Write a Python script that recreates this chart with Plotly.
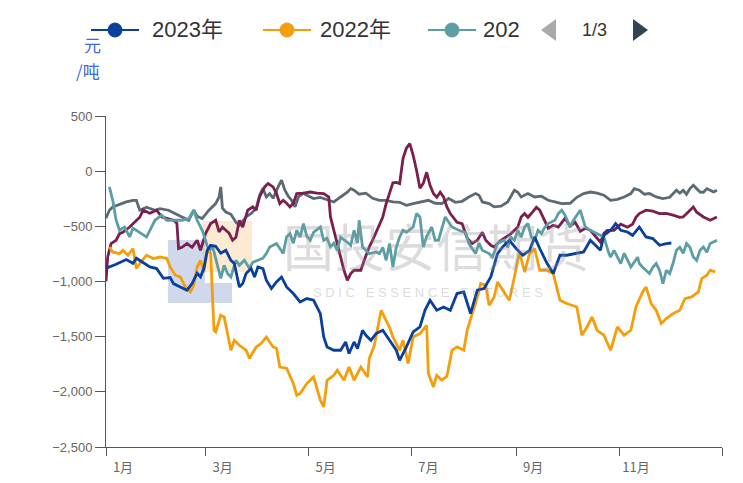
import pandas as pd
import plotly.graph_objects as go

# ---------------- data (day-of-year offsets, 元/吨) ----------------
names = ["2023年", "2022年", "2021年", "2020年", "2019年"]
colors = ["#0a3f9c", "#f59d0a", "#5b9ea6", "#7a1f4e", "#5a6b76"]

d2023 = [0, 2, 6, 12, 16, 18, 22, 26, 30, 34, 38, 40, 44, 48, 51, 54, 56, 58, 60, 62,
         65, 68, 71, 74, 76, 79, 81, 83, 86, 88, 90, 93, 95, 98, 101, 104, 107, 111, 115, 119,
         123, 127, 129, 131, 135, 139, 142, 144, 147, 149, 152, 154, 157, 160, 164, 168, 172, 174, 178, 182,
         186, 189, 192, 196, 200, 204, 208, 212, 216, 220, 224, 228, 232, 235, 239, 243, 247, 251, 254, 257,
         261, 265, 269, 273, 279, 283, 287, 293, 295, 299, 302, 305, 309, 312, 316, 320, 324, 328, 332, 335]
v2023 = [-880, -868, -844, -801, -835, -789, -832, -868, -883, -971, -964, -1019, -1049, -1079, -1019, -925, -959, -880, -717, -672,
         -681, -744, -717, -808, -837, -1049, -1019, -928, -883, -959, -868, -883, -988, -1064, -1004, -959, -1049, -1109, -1185, -1155,
         -1170, -1291, -1503, -1593, -1623, -1623, -1548, -1653, -1548, -1608, -1442, -1487, -1533, -1472, -1442, -1533, -1623, -1714, -1593, -1457,
         -1412, -1261, -1170, -1261, -1231, -1261, -1109, -1095, -1291, -1079, -1064, -959, -747, -687, -626, -701, -762, -717, -596, -701,
         -826, -928, -762, -762, -747, -732, -626, -717, -581, -536, -475, -536, -551, -581, -506, -596, -611, -672, -656, -651]

d2022 = [2, 4, 8, 10, 13, 16, 18, 20, 24, 28, 32, 36, 38, 41, 44, 47, 50, 52, 54, 56,
         58, 60, 62, 64, 65, 68, 70, 72, 74, 76, 79, 83, 85, 89, 92, 95, 99, 101, 103, 107,
         111, 113, 115, 119, 123, 127, 129, 131, 135, 137, 141, 144, 147, 151, 155, 156, 159, 163, 166, 168,
         170, 174, 176, 179, 182, 186, 190, 191, 194, 196, 199, 202, 205, 208, 212, 214, 217, 219, 222, 225,
         227, 230, 232, 235, 239, 242, 245, 248, 251, 254, 257, 261, 265, 267, 269, 273, 279, 282, 285, 288,
         291, 295, 297, 299, 303, 307, 311, 314, 318, 320, 323, 326, 329, 332, 336, 340, 343, 347, 351, 353,
         356, 358, 361]
v2022 = [-687, -732, -747, -717, -762, -701, -883, -837, -762, -792, -778, -792, -868, -943, -959, -1049, -1095, -1034, -868, -808,
         -914, -717, -747, -1442, -1457, -1306, -1321, -1472, -1623, -1533, -1578, -1623, -1698, -1593, -1560, -1503, -1593, -1605, -1775, -1786,
         -1925, -2031, -2016, -1925, -1865, -2076, -2137, -1895, -1850, -1805, -1895, -1775, -1895, -1775, -1865, -1698, -1578, -1261, -1351, -1415,
         -1503, -1623, -1533, -1744, -1503, -1472, -1397, -1834, -1956, -1850, -1895, -1859, -1623, -1593, -1623, -1442, -1291, -1197, -1019, -1034,
         -1215, -1140, -1004, -1079, -1170, -959, -732, -914, -747, -701, -898, -898, -928, -1049, -1170, -1200, -1231, -1487, -1412, -1321,
         -1442, -1487, -1562, -1623, -1412, -1487, -1442, -1231, -1095, -1049, -1200, -1261, -1381, -1336, -1291, -1261, -1155, -1140, -1095, -973,
         -943, -898, -914]

d2021 = [2, 4, 5, 6, 8, 11, 14, 16, 21, 24, 26, 29, 33, 36, 41, 45, 49, 52, 54, 57,
         59, 61, 63, 66, 68, 70, 72, 74, 77, 79, 82, 85, 87, 90, 93, 95, 97, 101, 105, 107,
         109, 111, 113, 115, 117, 119, 121, 123, 127, 129, 131, 133, 135, 137, 139, 143, 145, 147, 149, 150,
         152, 156, 160, 162, 164, 166, 168, 170, 172, 174, 176, 178, 182, 184, 186, 188, 190, 193, 195, 197,
         199, 201, 205, 209, 213, 215, 219, 221, 223, 227, 229, 231, 232, 236, 238, 240, 242, 244, 246, 248,
         250, 252, 254, 256, 258, 260, 262, 266, 268, 270, 272, 275, 277, 281, 284, 287, 291, 295, 298, 299,
         301, 303, 305, 307, 309, 311, 315, 316, 318, 322, 324, 326, 328, 330, 332, 334, 336, 338, 340, 342,
         344, 346, 348, 350, 352, 354, 356, 358, 362]
v2021 = [-143, -264, -354, -445, -536, -506, -596, -517, -566, -596, -536, -445, -399, -445, -445, -445, -430, -354, -445, -536,
         -626, -735, -672, -868, -971, -853, -928, -959, -808, -853, -808, -880, -826, -808, -789, -747, -687, -656, -747, -596,
         -566, -653, -536, -599, -475, -590, -626, -554, -506, -626, -608, -687, -653, -717, -599, -644, -672, -536, -653, -445,
         -687, -747, -732, -747, -690, -808, -656, -868, -690, -596, -536, -554, -506, -384, -415, -687, -590, -506, -626, -626,
         -508, -415, -506, -536, -554, -656, -747, -653, -717, -747, -778, -687, -656, -626, -690, -599, -626, -536, -599, -506,
         -475, -596, -626, -536, -566, -508, -475, -445, -384, -354, -399, -506, -445, -354, -506, -536, -566, -596, -747, -778,
         -717, -780, -837, -744, -808, -868, -780, -837, -871, -928, -871, -837, -898, -1019, -898, -928, -835, -717, -690, -744,
         -656, -690, -778, -808, -717, -687, -735, -656, -626]

d2020 = [0, 1, 3, 6, 8, 10, 14, 18, 20, 22, 26, 30, 33, 36, 40, 42, 43, 45, 48, 51,
         54, 56, 59, 62, 65, 67, 69, 71, 73, 75, 77, 79, 81, 84, 87, 89, 91, 94, 96, 99,
         101, 103, 105, 107, 109, 111, 113, 117, 121, 125, 129, 132, 133, 135, 137, 139, 141, 143, 145, 147,
         149, 151, 153, 155, 156, 158, 160, 162, 164, 166, 168, 170, 172, 174, 176, 178, 180, 182, 184, 186,
         188, 190, 192, 194, 196, 198, 200, 202, 204, 208, 211, 214, 217, 220, 223, 225, 228, 230, 234, 237,
         240, 244, 246, 248, 250, 252, 255, 257, 260, 262, 265, 268, 272, 275, 278, 281, 284, 287, 290, 293,
         295, 297, 301, 305, 309, 312, 314, 316, 320, 324, 328, 332, 336, 340, 342, 346, 348, 350, 354, 358,
         362]
v2020 = [-1000, -778, -656, -626, -566, -554, -506, -445, -418, -354, -382, -354, -415, -427, -445, -472, -701, -690, -656, -690,
         -626, -717, -566, -475, -445, -551, -508, -536, -563, -626, -599, -445, -508, -354, -324, -354, -234, -143, -112, -143,
         -200, -294, -264, -291, -324, -291, -203, -200, -189, -200, -203, -234, -415, -536, -656, -762, -898, -989, -928, -898,
         -898, -898, -808, -717, -687, -626, -554, -475, -415, -294, -203, -105, -101, -112, 117, 208, 250, 144, 8, -155,
         -110, -10, -128, -203, -236, -191, -234, -324, -384, -463, -475, -608, -656, -626, -554, -626, -672, -687, -626, -596,
         -566, -506, -415, -384, -418, -384, -327, -354, -445, -517, -490, -506, -427, -499, -463, -545, -517, -536, -590, -644,
         -563, -536, -536, -481, -508, -481, -418, -384, -354, -363, -384, -382, -399, -418, -415, -354, -324, -372, -415, -445,
         -415]

d2019 = [0, 2, 4, 8, 12, 16, 18, 20, 24, 29, 32, 37, 41, 45, 49, 52, 54, 57, 61, 65,
         67, 68, 69, 71, 74, 77, 79, 83, 86, 89, 91, 93, 95, 97, 99, 102, 104, 106, 108, 110,
         112, 114, 117, 119, 123, 127, 131, 135, 139, 143, 145, 147, 150, 154, 158, 162, 166, 170, 174, 178,
         182, 186, 191, 195, 199, 203, 207, 211, 215, 219, 221, 223, 227, 230, 234, 238, 242, 244, 246, 250,
         254, 258, 262, 266, 270, 275, 279, 283, 287, 291, 295, 299, 303, 307, 311, 313, 315, 316, 319, 322,
         326, 330, 334, 338, 340, 342, 344, 346, 348, 350, 352, 354, 356, 358, 360, 362]
v2019 = [-427, -354, -324, -300, -279, -264, -264, -354, -327, -354, -339, -354, -384, -415, -445, -354, -409, -430, -354, -294,
         -234, -143, -336, -370, -391, -463, -490, -415, -384, -336, -218, -155, -234, -203, -246, -143, -82, -173, -227, -264,
         -324, -234, -200, -218, -248, -237, -255, -279, -234, -191, -158, -173, -209, -200, -246, -264, -264, -279, -282, -309,
         -294, -282, -264, -291, -294, -248, -282, -273, -234, -203, -218, -279, -294, -324, -318, -279, -173, -191, -234, -203,
         -234, -227, -264, -279, -294, -291, -237, -203, -189, -200, -218, -264, -255, -234, -203, -158, -173, -173, -209, -203,
         -234, -248, -237, -173, -200, -173, -209, -158, -128, -155, -189, -191, -158, -173, -189, -173]

days = [d2023, d2022, d2021, d2020, d2019]
vals = [v2023, v2022, v2021, v2020, v2019]

y_ticks = [500, 0, -500, -1000, -1500, -2000, -2500]
x_tick_labels = ["1月", "3月", "5月", "7月", "9月", "11月", ""]
x_tick_dates = ["2001-01-01", "2001-03-01", "2001-05-01", "2001-07-01",
                "2001-09-01", "2001-11-01", "2002-01-01"]

base = pd.Timestamp("2001-01-01")

fig = go.Figure()
# draw older years first so recent years sit on top
for i in reversed(range(len(names))):
    x = [base + pd.Timedelta(days=d) for d in days[i]]
    fig.add_trace(go.Scatter(x=x, y=vals[i], name=names[i], mode="lines",
                             line=dict(color=colors[i], width=2.8),
                             showlegend=False))

# plot area geometry in screen pixels (page has 8px body margin)
OFF = 8
W, H = 743, 483
L, R, T, B = 106, 722, 116, 447
def px(x):
    return (x - L) / (R - L)
def py(y):
    return (B - y) / (B - T)

shapes = []
annotations = []

# watermark logo (faint)
shapes.append(dict(type="rect", xref="paper", yref="paper", x0=px(168), x1=px(205), y0=py(303), y1=py(240),
                   fillcolor="rgba(40,80,170,0.22)", line=dict(width=0), layer="below"))
shapes.append(dict(type="rect", xref="paper", yref="paper", x0=px(205), x1=px(232), y0=py(303), y1=py(283),
                   fillcolor="rgba(40,80,170,0.22)", line=dict(width=0), layer="below"))
shapes.append(dict(type="rect", xref="paper", yref="paper", x0=px(203), x1=px(252), y0=py(272), y1=py(221),
                   fillcolor="rgba(245,170,80,0.25)", line=dict(width=0), layer="below"))
annotations.append(dict(text="国投安信期货", xref="paper", yref="paper", x=px(436), y=py(245),
                        showarrow=False, font=dict(size=51, color="rgba(150,150,150,0.33)",
                                                   family="Noto Sans CJK SC")))
annotations.append(dict(text="S D I C   E S S E N C E   F U T U R E S", xref="paper", yref="paper",
                        x=px(428), y=py(292), showarrow=False,
                        font=dict(size=13, color="rgba(150,150,150,0.35)", family="Liberation Sans")))

# custom paged legend
leg_y = 30
items = [(115, 150, "2023年", colors[0]), (287, 318, "2022年", colors[1]), (452, 481, "202", colors[2])]
for cx, tx, label, col in items:
    shapes.append(dict(type="line", xref="paper", yref="paper", x0=px(cx - 24), x1=px(cx + 24),
                       y0=py(leg_y), y1=py(leg_y), line=dict(color=col, width=2)))
    shapes.append(dict(type="circle", xref="paper", yref="paper", x0=px(cx - 7), x1=px(cx + 7),
                       y0=py(leg_y + 7), y1=py(leg_y - 7), fillcolor=col, line=dict(color=col, width=1)))
    annotations.append(dict(text=label, xref="paper", yref="paper", x=px(tx), y=py(leg_y),
                            xanchor="left", yanchor="middle", showarrow=False,
                            font=dict(size=22, color="#333333", family="Liberation Sans, Noto Sans CJK SC")))
# pager
shapes.append(dict(type="path", xref="paper", yref="paper",
                   path=f"M {px(541)} {py(30)} L {px(556)} {py(19)} L {px(556)} {py(41)} Z",
                   fillcolor="#aaaaaa", line=dict(width=0)))
shapes.append(dict(type="path", xref="paper", yref="paper",
                   path=f"M {px(648)} {py(30)} L {px(633)} {py(19)} L {px(633)} {py(41)} Z",
                   fillcolor="#2f4554", line=dict(width=0)))
annotations.append(dict(text="1/3", xref="paper", yref="paper", x=px(594), y=py(30),
                        xanchor="center", yanchor="middle", showarrow=False,
                        font=dict(size=18, color="#333333", family="Liberation Sans")))

# y-axis unit
annotations.append(dict(text="元", xref="paper", yref="paper", x=px(92), y=py(45),
                        xanchor="center", yanchor="middle", showarrow=False,
                        font=dict(size=17, color="#3b6bd6", family="Noto Sans CJK SC")))
annotations.append(dict(text="/吨", xref="paper", yref="paper", x=px(88), y=py(70),
                        xanchor="center", yanchor="middle", showarrow=False,
                        font=dict(size=17, color="#3b6bd6", family="Noto Sans CJK SC")))

fig.update_layout(
    width=W, height=H,
    margin=dict(l=L - OFF, r=W - R + OFF, t=T - OFF, b=H - B + OFF, autoexpand=False),
    paper_bgcolor="white", plot_bgcolor="white",
    shapes=shapes, annotations=annotations,
    font=dict(family="Liberation Sans", color="#666666"),
)
fig.update_xaxes(
    type="date", range=["2001-01-01", "2002-01-01"],
    tickvals=x_tick_dates, ticktext=x_tick_labels,
    showgrid=False, zeroline=False, showline=True, linecolor="#555555", linewidth=1,
    ticks="outside", ticklen=8, tickcolor="#555555",
    tickfont=dict(size=13, color="#666666", family="Noto Sans CJK SC"),
    ticklabelshift=17, automargin=False,
)
fig.update_yaxes(
    range=[-2500, 500], tickvals=y_ticks, tickformat=",",
    showgrid=False, zeroline=False, showline=True, linecolor="#555555", linewidth=1,
    ticks="outside", ticklen=10, tickcolor="#555555",
    tickfont=dict(size=13, color="#666666", family="Liberation Sans"),
    automargin=False,
)

fig.write_html("out.html")
